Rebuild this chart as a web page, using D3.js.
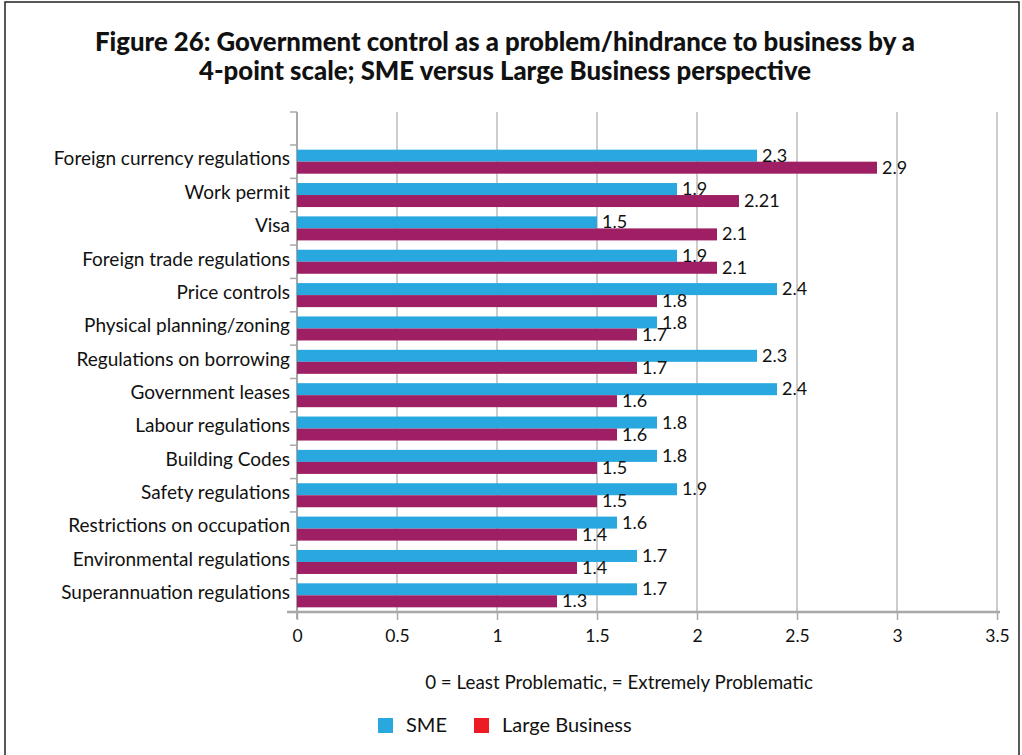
<!DOCTYPE html>
<html>
<head>
<meta charset="utf-8">
<script src="https://cdn.jsdelivr.net/npm/d3@7"></script>
<style>
  html, body { margin: 0; padding: 0; background: #fff; }
  svg { display: block; }
  text { font-family: Lato, "Open Sans", sans-serif; fill: #111; }
</style>
</head>
<body>
<svg id="chart" width="1022" height="755"></svg>
<script>
// Ratings on a 4-point scale, by business size
const categories = [
  "Foreign currency regulations",
  "Work permit",
  "Visa",
  "Foreign trade regulations",
  "Price controls",
  "Physical planning/zoning",
  "Regulations on borrowing",
  "Government leases",
  "Labour regulations",
  "Building Codes",
  "Safety regulations",
  "Restrictions on occupation",
  "Environmental regulations",
  "Superannuation regulations"
];
const smeValues   = [2.3, 1.9, 1.5, 1.9, 2.4, 1.8, 2.3, 2.4, 1.8, 1.8, 1.9, 1.6, 1.7, 1.7];
const largeValues = [2.9, 2.21, 2.1, 2.1, 1.8, 1.7, 1.7, 1.6, 1.6, 1.5, 1.5, 1.4, 1.4, 1.3];
const seriesNames = ["SME", "Large Business"];
const xTicks = [0, 0.5, 1, 1.5, 2, 2.5, 3, 3.5];
const titleLines = [
  "Figure 26: Government control as a problem/hindrance to business by a",
  "4-point scale; SME versus Large Business perspective"
];
const scaleNote = "0 = Least Problematic, = Extremely Problematic";

const barColors = { "SME": "#29a8e0", "Large Business": "#9e1f63" };
const legendColors = { "SME": "#29a8e0", "Large Business": "#ed1c24" };

const svg = d3.select("#chart");

// outer frame
svg.append("rect")
  .attr("x", 5).attr("y", 2)
  .attr("width", 1014).attr("height", 770)
  .attr("fill", "none").attr("stroke", "#222").attr("stroke-width", 1.5);

// title
const titleWidths = [820, 612];
svg.append("g").selectAll("text")
  .data(titleLines)
  .join("text")
  .attr("x", 505)
  .attr("y", (d, i) => 51 + i * 29)
  .attr("text-anchor", "middle")
  .attr("textLength", (d, i) => titleWidths[i])
  .attr("lengthAdjust", "spacingAndGlyphs")
  .style("font-family", "'Liberation Sans Narrow', 'Lato', sans-serif")
  .style("font-weight", "900")
  .style("font-size", "26px")
  .text(d => d);

const plotTop = 112, plotBottom = 612;
const x = d3.scaleLinear().domain([0, 3.5]).range([297, 997]);
const y = d3.scaleBand().domain(categories).range([145, plotBottom])
  .paddingInner(0.28).paddingOuter(0.14);
const ySub = d3.scaleBand().domain(seriesNames).range([0, y.bandwidth()]);

// vertical gridlines
svg.append("g").selectAll("line")
  .data(xTicks.filter(d => d > 0))
  .join("line")
  .attr("x1", d => x(d)).attr("x2", d => x(d))
  .attr("y1", plotTop).attr("y2", plotBottom)
  .attr("stroke", "#bdbdbd").attr("stroke-width", 1.5);

// category axis line and ticks at band boundaries
const step = y.step();
const boundaries = [plotTop].concat(categories.map((c, i) => 145 + i * step));
svg.append("line")
  .attr("x1", x(0)).attr("x2", x(0))
  .attr("y1", plotTop).attr("y2", plotBottom + 7)
  .attr("stroke", "#a8a8a8").attr("stroke-width", 2);
svg.append("g").selectAll("line")
  .data(boundaries)
  .join("line")
  .attr("x1", x(0) - 7).attr("x2", x(0))
  .attr("y1", d => d).attr("y2", d => d)
  .attr("stroke", "#a8a8a8").attr("stroke-width", 1.5);

// bars
const rows = categories.map((c, i) => ({ cat: c, values: [
  { series: "SME", value: smeValues[i] },
  { series: "Large Business", value: largeValues[i] }
]}));

const rowG = svg.append("g").selectAll("g")
  .data(rows)
  .join("g")
  .attr("transform", d => `translate(0,${y(d.cat)})`);

rowG.selectAll("rect")
  .data(d => d.values)
  .join("rect")
  .attr("x", x(0))
  .attr("y", d => ySub(d.series))
  .attr("width", d => x(d.value) - x(0))
  .attr("height", ySub.bandwidth())
  .attr("fill", d => barColors[d.series]);

rowG.selectAll("text.val")
  .data(d => d.values)
  .join("text")
  .attr("class", "val")
  .attr("x", d => x(d.value) + 5)
  .attr("y", d => ySub(d.series) + ySub.bandwidth() / 2 + 1.5)
  .attr("dominant-baseline", "middle")
  .style("font-size", "18px")
  .text(d => d.value);

// bottom value axis
svg.append("line")
  .attr("x1", x(0) - 10).attr("x2", x(3.5) + 3)
  .attr("y1", plotBottom).attr("y2", plotBottom)
  .attr("stroke", "#a8a8a8").attr("stroke-width", 2.5);
const xAxis = d3.axisBottom(x).tickValues(xTicks).tickSize(8).tickPadding(10)
  .tickFormat(d3.format("~g"));
const xg = svg.append("g").attr("transform", `translate(0,${plotBottom})`).call(xAxis);
xg.select(".domain").remove();
xg.selectAll(".tick line").attr("stroke", "#a8a8a8").attr("stroke-width", 1.5);
xg.selectAll(".tick text")
  .style("font-family", "Lato, sans-serif")
  .style("font-size", "17.5px")
  .attr("fill", "#111");

// category labels
svg.append("g").selectAll("text")
  .data(categories)
  .join("text")
  .attr("x", 290)
  .attr("y", d => y(d) + y.bandwidth() / 2 - 1)
  .attr("text-anchor", "end")
  .attr("dominant-baseline", "middle")
  .style("font-size", "19px")
  .text(d => d);

// scale note
svg.append("text")
  .attr("x", 619).attr("y", 689)
  .attr("text-anchor", "middle")
  .style("font-size", "18.8px")
  .text(scaleNote);

// legend
const legendX = [378, 474];
const lg = svg.append("g").selectAll("g")
  .data(seriesNames)
  .join("g")
  .attr("transform", (d, i) => `translate(${legendX[i]},718)`);
lg.append("rect")
  .attr("width", 15).attr("height", 15)
  .attr("fill", d => legendColors[d]);
lg.append("text")
  .attr("x", 28).attr("y", 14)
  .style("font-size", "20px")
  .text(d => d);
</script>
</body>
</html>
